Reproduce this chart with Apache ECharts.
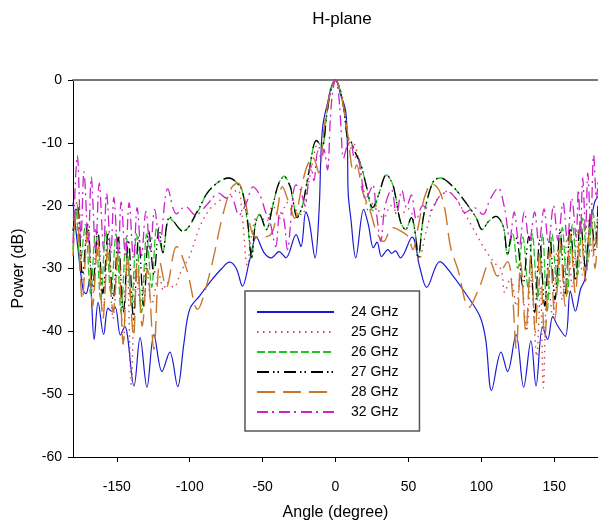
<!DOCTYPE html>
<html>
<head>
<meta charset="utf-8">
<script src="https://cdn.jsdelivr.net/npm/echarts@6/dist/echarts.min.js"></script>
<style>
html,body{margin:0;padding:0;background:#fff;}
#chart{width:598px;height:526px;}
</style>
</head>
<body>
<div id="chart"></div>
<script>
const xTicks = [-150, -100, -50, 0, 50, 100, 150];
const seriesNames = ['24 GHz', '25 GHz', '26 GHz', '27 GHz', '28 GHz', '32 GHz'];

const s24 = [[-180,-19.5],[-177,-26],[-173,-33.5],[-171,-34],[-168.6,-31.7],[-165.5,-41.3],[-162.8,-35.4],[-159,-40.5],[-156,-36.3],[-153.5,-36.8],[-151,-36.2],[-147.5,-40.6],[-144.5,-39.2],[-138.2,-48.7],[-134,-41],[-129.3,-48.9],[-124.5,-40.5],[-119,-46.4],[-113.6,-43.3],[-108.2,-48.8],[-104,-42],[-100,-36.5],[-93,-34.3],[-84.4,-31.7],[-78,-30],[-72.7,-29],[-68,-30],[-63.8,-32.8],[-59,-28.8],[-54.3,-25],[-48.9,-27.5],[-44,-28.3],[-38.7,-27.3],[-34,-28.3],[-27,-24.6],[-23.7,-26.5],[-20.3,-21],[-18,-22.5],[-14,-28.3],[-11.2,-20.5],[-10,-12],[-8.6,-7.1],[-5,-3.2],[-2.5,-0.8],[0,0],[3.6,-2.4],[7,-5],[8.2,-11],[8.7,-18],[10.5,-22],[13.9,-28.3],[19.3,-20.6],[22.5,-23],[26,-26.7],[28.5,-25.8],[31.6,-28.1],[36,-27],[38.5,-27.6],[41,-27.2],[44.5,-28.3],[52.5,-25],[58,-30],[62.5,-33],[71.5,-28.9],[80,-31],[89,-33.9],[99,-37.6],[103,-41.3],[107,-49.4],[113.5,-43.3],[118,-46.4],[123.8,-40.5],[129,-48.9],[134,-41.5],[137.5,-48.7],[142,-39.3],[145.5,-41.3],[149,-37.6],[152,-39],[157.6,-40.8],[161,-33.6],[164.5,-36.8],[168,-33.3],[171,-31.7],[174,-24],[177.6,-19.5],[180,-18.5]];

const s25 = [[-180,-22],[-177,-21],[-173.5,-32],[-170,-24],[-166.5,-34],[-163,-26],[-159.5,-37],[-156,-27],[-152.5,-38],[-149,-28],[-145.5,-42],[-143,-28.5],[-140,-48.5],[-137,-30],[-133.5,-36],[-130,-29],[-126,-35.7],[-121,-31],[-118,-33.5],[-115.6,-32.2],[-111,-33],[-106,-30.5],[-100,-28],[-93,-23.3],[-86,-20.5],[-79.5,-19.2],[-72.7,-18.3],[-67,-17.5],[-64,-21.5],[-60.5,-29.5],[-57,-24],[-53,-21.5],[-47.5,-22.5],[-43,-20],[-38,-22],[-33,-19.5],[-28,-20.5],[-23,-21.5],[-19,-17],[-16,-13.5],[-12.5,-10.3],[-10,-11.3],[-7,-6],[-4,-2],[0,0],[4,-2],[7,-6],[10,-11],[12.5,-10.2],[16,-13],[19,-17],[23,-21],[26,-19.5],[28.5,-20.3],[33,-22],[38,-20],[44,-21.5],[50,-20.5],[53.5,-22.2],[57,-28.9],[62.5,-23.8],[68.4,-19.5],[77,-17.7],[83,-19],[89,-21.4],[96,-24.3],[102.6,-27],[109,-29.1],[113.6,-30.2],[116,-33.8],[120,-31.5],[124,-36],[127,-30],[131,-40],[134,-31],[138,-44],[140.5,-33],[142.5,-49],[145.5,-31],[149,-38],[152,-27],[155.5,-35],[159,-25],[162.5,-33],[166,-24],[169.5,-31],[173,-22],[176.5,-28],[180,-20]];

const s26 = [[-180,-27],[-178,-20.5],[-175,-29],[-171.5,-23],[-168,-34],[-164.5,-23.8],[-161,-35],[-157.5,-24],[-154,-34],[-150.5,-24.5],[-147,-37],[-143.5,-25],[-140,-36],[-136.5,-24.5],[-133,-37],[-129.5,-24.5],[-126,-33],[-122.5,-23.5],[-118.4,-27.3],[-113.6,-22],[-104.5,-24],[-95,-21.2],[-88,-18],[-80,-16.2],[-73,-15.6],[-67,-16.5],[-63.8,-17.8],[-60.5,-22.5],[-57.5,-28.3],[-55,-23],[-52,-21.4],[-47.5,-23.8],[-43,-20],[-39,-16.5],[-35.3,-15.3],[-31,-17],[-29.5,-18.7],[-26.3,-21.6],[-23,-20.3],[-18.2,-14.6],[-13,-9.7],[-9.3,-10.5],[-6,-5.5],[-3,-1.5],[0,0],[3,-1.5],[6,-5],[8,-9],[10,-9.5],[13.5,-11.5],[17.4,-13.5],[21.5,-17.2],[25.5,-20.8],[29.5,-18.3],[35,-15.1],[39,-16.5],[41,-18.3],[44.5,-22.5],[48,-23.8],[52,-21.9],[54.8,-24.6],[56.8,-28.3],[59.5,-23],[61.6,-20.3],[67,-16.2],[71.8,-15.6],[80.6,-17],[89,-19.4],[96.4,-21.9],[100.5,-23.8],[105,-22.5],[110,-21.7],[115,-23.3],[118,-27.8],[121.5,-24.5],[125,-30],[128.5,-25],[132,-33],[135,-24.5],[138.5,-35],[142,-24.5],[145,-37],[148.5,-24.5],[152,-33],[155.5,-23.5],[159,-34],[162.5,-23],[166,-31],[169.5,-22],[173,-29],[176.5,-21],[179,-25],[180,-22]];

const s27 = [[-180,-24],[-177,-20],[-173.5,-31],[-170,-23],[-166.5,-33],[-163,-24],[-159.5,-34],[-156,-24.5],[-152.5,-35],[-149,-25],[-145.5,-37],[-142,-25.5],[-138.5,-38],[-135,-25],[-131.5,-36],[-128,-24],[-124.5,-31],[-121,-23.5],[-118.4,-27.5],[-113.6,-21.8],[-104.5,-24.1],[-95,-21],[-88,-18],[-80,-16.2],[-73,-15.6],[-67,-16.5],[-63.8,-17.8],[-60.5,-22],[-57.5,-28.2],[-55,-23],[-52,-21.5],[-47.5,-23.8],[-43,-20],[-39,-16.5],[-35.3,-15.4],[-31,-17],[-29.5,-18.7],[-26.3,-21.9],[-23,-20.3],[-18.2,-14.6],[-13,-9.6],[-9.3,-10.6],[-6,-5.5],[-3,-1.5],[0,0],[3,-1.5],[6,-5],[8,-9],[10,-9.5],[13.5,-11.5],[17.4,-13.5],[21.5,-17.2],[25.5,-20.3],[29.5,-18.3],[35,-15.1],[39,-16.5],[41,-18.3],[44.5,-22.5],[48,-23.8],[52,-21.9],[54.8,-24.6],[56.8,-28.3],[59.5,-23],[61.6,-20.3],[67,-16.2],[71.8,-15.6],[80.6,-17],[89,-19.4],[96.4,-21.9],[100.5,-23.8],[105,-22.5],[110,-21.7],[115,-23.3],[118,-27.8],[121,-24.8],[124.5,-25.4],[128.4,-32.8],[132.5,-24.9],[136.6,-37],[140,-25.5],[143.5,-36],[147,-25],[150.5,-35],[154,-24],[157.5,-34],[161,-23.5],[164.5,-32],[168,-22.5],[171.5,-30],[175,-21.5],[178,-27],[180,-20]];

const s28 = [[-180,-28],[-177.5,-19.5],[-173.6,-35],[-170,-24],[-166.5,-36],[-163,-25.5],[-159.5,-38],[-156,-26.5],[-152.5,-37],[-149,-27],[-145.6,-42],[-142.5,-28],[-138.5,-40.8],[-136,-29],[-132.5,-39.2],[-129,-30],[-124.5,-42.9],[-120.4,-29],[-116,-33],[-109,-26.5],[-102,-30.2],[-94.5,-36.5],[-91,-34.8],[-84,-28.6],[-77.5,-21.7],[-71.4,-17.2],[-67,-16.4],[-62.5,-18.7],[-59,-22.7],[-55.5,-24.9],[-50,-25],[-44,-24.5],[-40,-21],[-36.5,-17],[-32,-19.5],[-28,-22],[-24,-18],[-20,-14],[-15.5,-12.3],[-11.5,-14.8],[-8,-8],[-4,-2.5],[0,0],[4,-2.5],[8,-8],[12.5,-14.6],[14.5,-13.5],[18.5,-17.7],[24,-21],[28,-24.1],[33,-25.7],[39,-23.5],[46.6,-24.3],[50,-25],[53,-27],[57,-23],[59,-20.6],[62,-18],[66,-16.5],[71,-17.5],[75,-20.6],[79,-26.7],[84,-30.2],[91.5,-36.2],[99,-32.8],[106,-28.9],[111,-31.2],[118,-28.9],[121,-33],[124,-42.9],[127,-29],[130.5,-40],[134,-28],[137,-40.2],[140,-27.5],[143.5,-41],[147,-27],[150.5,-38],[154,-25.5],[157.5,-36],[161,-24.5],[164.5,-34],[168,-23],[171.5,-32],[175,-21.5],[178,-30],[180,-22]];

const s32 = [[-180,-26],[-177,-12],[-174.5,-25],[-172.5,-14.6],[-169.5,-26],[-167.5,-15.4],[-164.5,-27],[-162,-16.4],[-159,-27],[-157,-18],[-154,-27.5],[-152,-18.7],[-149,-28],[-147,-19.4],[-144,-28],[-141.5,-19.5],[-138.5,-28.5],[-136,-20.3],[-133,-28],[-130,-20.9],[-127,-27],[-124,-20.6],[-120.5,-26],[-115,-17.3],[-109,-21.3],[-103,-20.1],[-96,-21.5],[-88,-19.8],[-80,-18],[-75,-18.8],[-72,-18.4],[-66,-21.5],[-61,-19.5],[-56.5,-17],[-51.5,-18.5],[-48,-21],[-45,-22.5],[-41,-26.5],[-38,-21],[-35.5,-22],[-33,-27],[-29,-18],[-27,-16.7],[-24,-17.5],[-21,-20],[-17,-13.5],[-14.8,-16],[-12,-11.3],[-9.5,-12.5],[-8,-11],[-5.5,-14.3],[-3.5,-6],[-2,-2],[0,0],[2,-2],[3.5,-6.5],[5.5,-12.5],[8,-10.5],[10.5,-9.8],[13,-12.5],[15,-12],[17.5,-15],[20.5,-19],[23,-18],[25.6,-16.7],[28,-21],[31,-25.7],[34,-20],[38.4,-17.5],[41.8,-21.4],[45.5,-17.5],[48.6,-20.3],[52,-18.3],[55.5,-22.2],[60,-20],[65,-20.8],[71,-18.6],[77,-17.8],[83,-19],[89,-21.1],[95,-20.3],[101,-21.4],[106,-19],[111.5,-17.2],[116,-20.5],[119.5,-25.4],[122.5,-21],[126,-26.5],[129.5,-21],[133,-25.8],[136.5,-21],[139.5,-26],[143,-20.5],[146,-26],[149.5,-20],[152.5,-25.5],[156,-19.5],[159,-25.5],[162,-18.8],[165,-25],[166.5,-17.5],[168,-24.5],[169.5,-15.6],[171.5,-24],[173,-14.8],[175,-23.5],[177,-11.9],[179,-19],[180,-16]];

const seriesData = [s24, s25, s26, s27, s28, s32];
const colors = ['#1a1ad6', '#cc4a4a', '#22c322', '#000000', '#c8762a', '#cc22cc'];
const dashes = ['solid', [1.5, 4.5], [8, 3], [12, 4, 1.5, 3, 1.5, 5], [18, 8], [11, 4, 2, 5]];
const widths = [1.2, 1.4, 1.3, 1.3, 1.4, 1.3];

const chart = echarts.init(document.getElementById('chart'), null, {renderer: 'canvas'});
const FONT = 'Liberation Sans, Arial, sans-serif';

chart.setOption({
  animation: false,
  backgroundColor: '#fff',
  title: {
    text: 'H-plane',
    left: 337,
    top: 6,
    textAlign: 'center',
    textStyle: {fontFamily: FONT, fontSize: 17, fontWeight: 'normal', color: '#000'}
  },
  grid: {left: 73, top: 80, width: 528, height: 378, containLabel: false},
  legend: {
    orient: 'vertical',
    left: 245,
    top: 291,
    itemWidth: 77,
    itemHeight: 14,
    itemGap: 6,
    padding: [14, 21, 12, 11],
    borderColor: '#555',
    borderWidth: 1.5,
    borderRadius: 0,
    backgroundColor: '#fff',
    data: seriesNames,
    itemStyle: {opacity: 0},
    textStyle: {fontFamily: FONT, fontSize: 14, color: '#000', padding: [0, 0, 0, 12]}
  },
  xAxis: [{
    type: 'value', min: -180, max: 180, position: 'bottom',
    name: 'Angle (degree)', nameLocation: 'middle', nameGap: 48,
    nameTextStyle: {fontFamily: FONT, fontSize: 16, color: '#000'},
    axisLine: {show: true, onZero: false, lineStyle: {color: '#000', width: 1}},
    axisTick: {show: true, length: 5, customValues: xTicks, lineStyle: {color: '#000'}},
    axisLabel: {show: true, customValues: xTicks, margin: 23, fontFamily: FONT, fontSize: 14, color: '#000'},
    splitLine: {show: false}
  }, {
    type: 'value', min: -180, max: 180, position: 'top',
    axisLine: {show: true, onZero: false, lineStyle: {color: '#777', width: 2}},
    axisTick: {show: false}, axisLabel: {show: false}, splitLine: {show: false}
  }],
  yAxis: {
    type: 'value', min: -60, max: 0, interval: 10,
    name: 'Power (dB)', nameLocation: 'middle', nameGap: 46,
    nameTextStyle: {fontFamily: FONT, fontSize: 16, color: '#000'},
    axisLine: {show: true, onZero: false, lineStyle: {color: '#000', width: 1}},
    axisTick: {show: true, length: 5, lineStyle: {color: '#000'}},
    axisLabel: {margin: 11, fontFamily: FONT, fontSize: 14, color: '#000'},
    splitLine: {show: false}
  },
  series: seriesNames.map((name, i) => ({
    name: name,
    type: 'line',
    data: seriesData[i],
    symbol: 'none',
    smooth: 0.35,
    xAxisIndex: 0,
    lineStyle: {color: colors[i], width: widths[i], type: dashes[i]},
    itemStyle: {color: colors[i]},
    z: 2 + i * 0.01
  }))
});
</script>
</body>
</html>
